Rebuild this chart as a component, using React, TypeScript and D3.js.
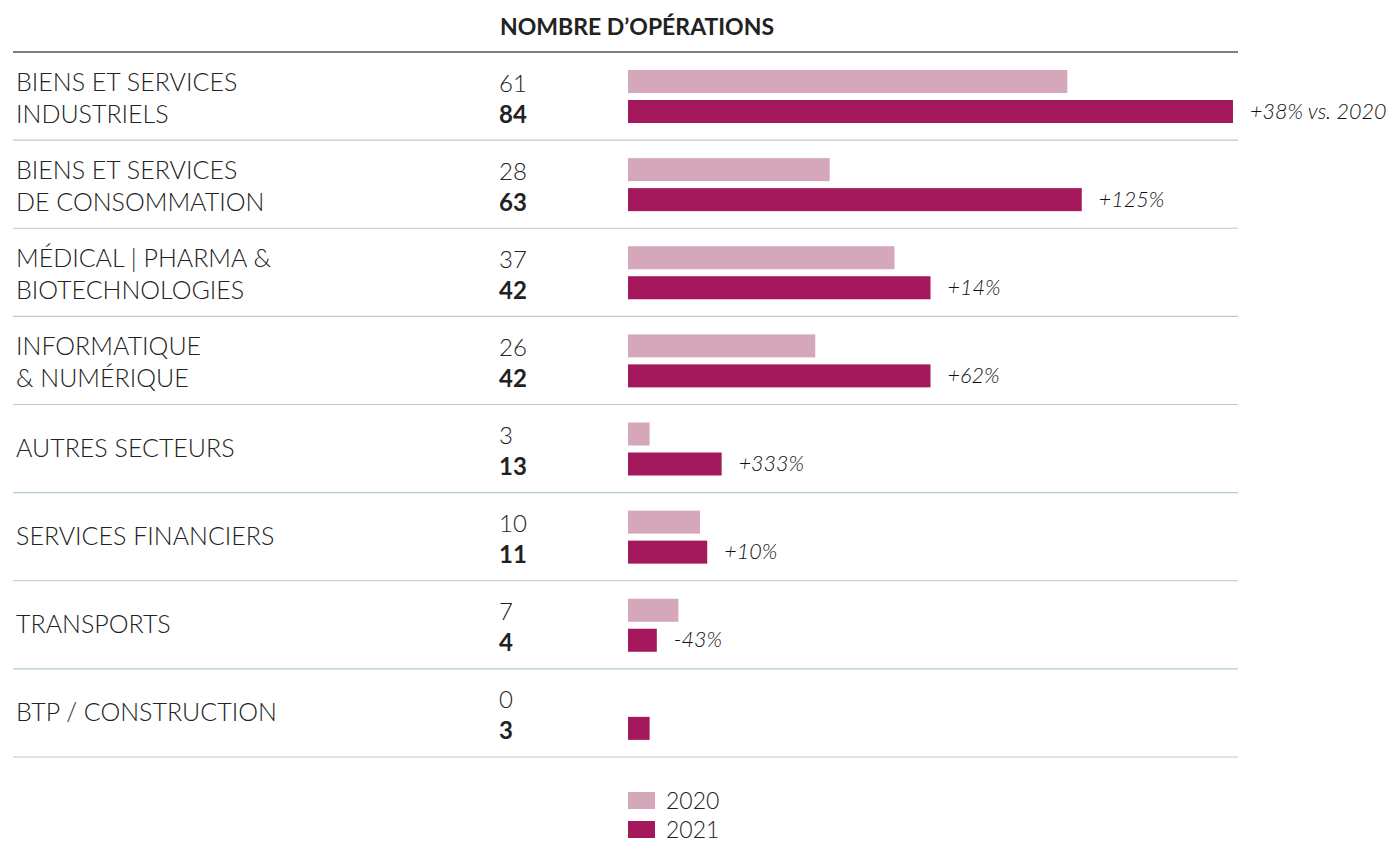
import React from "react";
import * as d3 from "d3";

const categories: string[][] = [
  ["BIENS ET SERVICES", "INDUSTRIELS"],
  ["BIENS ET SERVICES", "DE CONSOMMATION"],
  ["MÉDICAL | PHARMA &", "BIOTECHNOLOGIES"],
  ["INFORMATIQUE", "& NUMÉRIQUE"],
  ["AUTRES SECTEURS"],
  ["SERVICES FINANCIERS"],
  ["TRANSPORTS"],
  ["BTP / CONSTRUCTION"],
];
const values2020: number[] = [61, 28, 37, 26, 3, 10, 7, 0];
const values2021: number[] = [84, 63, 42, 42, 13, 11, 4, 3];
const changeLabels: string[] = ["+38% vs. 2020", "+125%", "+14%", "+62%", "+333%", "+10%", "-43%", ""];
const seriesNames: string[] = ["2020", "2021"];
const title = "NOMBRE D’OPÉRATIONS";

const C2020 = "#d4a7bb";
const C2021 = "#a3195b";
const TEXT = "#222222";
const FONT = "Lato, 'Open Sans', sans-serif";

export default function App() {
  const W = 1389;
  const H = 842;
  const x = d3.scaleLinear().domain([0, 84]).range([628, 1233]);
  const rows = d3
    .scaleBand<number>()
    .domain(d3.range(categories.length))
    .range([52, 757])
    .padding(0);
  const bh = 23;

  return (
    <svg
      width={W}
      height={H}
      style={{ position: "absolute", left: 0, top: 0, background: "#fff" }}
      fontFamily={FONT}
    >
      <text x={637} y={35} textAnchor="middle" fontWeight={700} fontSize={23} fill={TEXT}>
        {title}
      </text>
      <line x1={13} x2={1238} y1={52} y2={52} stroke="#555" strokeWidth={1.5} />
      {categories.map((lines, i) => {
        const top = rows(i)!;
        const mid = top + rows.bandwidth() / 2;
        const y20 = top + 18;
        const y21 = top + 48;
        return (
          <g key={i}>
            <line x1={13} x2={1238} y1={top + rows.bandwidth()} y2={top + rows.bandwidth()} stroke="#b3c9d7" strokeWidth={1.2} />
            {lines.map((l, j) => (
              <text
                key={j}
                x={16}
                y={lines.length === 2 ? top + 31 + j * 32 + 8 : mid + 8}
                fontSize={25}
                fill={TEXT}
                fontWeight={300}
              >
                {l}
              </text>
            ))}
            <text x={499} y={y20 + bh / 2 + 10} fontSize={24} fontWeight={300} fill={TEXT}>
              {values2020[i]}
            </text>
            <text x={499} y={y21 + bh / 2 + 11} fontSize={24} fontWeight={700} fill={TEXT}>
              {values2021[i]}
            </text>
            {values2020[i] > 0 && (
              <rect x={x(0)} y={y20} width={x(values2020[i]) - x(0)} height={bh} fill={C2020} />
            )}
            <rect x={x(0)} y={y21} width={x(values2021[i]) - x(0)} height={bh} fill={C2021} />
            {changeLabels[i] && (
              <text
                x={x(values2021[i]) + 17}
                y={y21 + bh / 2 + 7}
                fontSize={21.5}
                fontStyle="italic"
                fontWeight={300}
                fill="#111111"
              >
                {changeLabels[i]}
              </text>
            )}
          </g>
        );
      })}
      {seriesNames.map((s, i) => (
        <g key={s}>
          <rect x={628} y={792 + i * 29} width={27} height={17} fill={i === 0 ? C2020 : C2021} />
          <text x={666} y={809 + i * 29} fontSize={23} fontWeight={300} fill={TEXT}>
            {s}
          </text>
        </g>
      ))}
    </svg>
  );
}
